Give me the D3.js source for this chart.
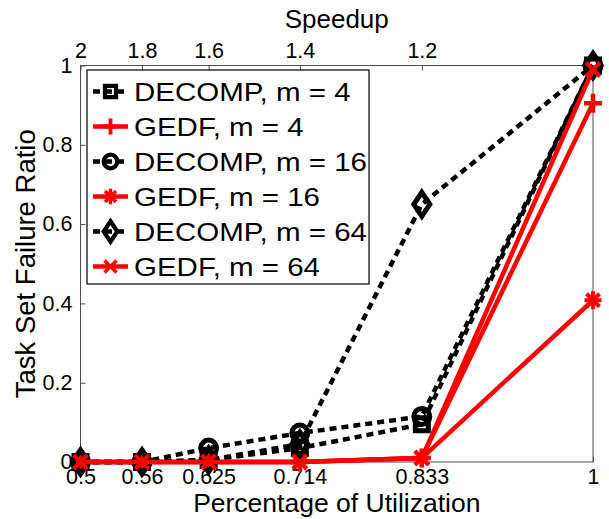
<!DOCTYPE html>
<html>
<head>
<meta charset="utf-8">
<script src="https://cdn.jsdelivr.net/npm/d3@7"></script>
<style>
  html, body { margin: 0; padding: 0; background: #fff; }
  svg { display: block; }
  text { font-family: "Liberation Sans", Arial, Helvetica, sans-serif; fill: #000; }
</style>
</head>
<body>
<svg id="chart" width="609" height="519"></svg>
<script>
// Utilization levels (bottom axis) and the matching speedup labels (top axis)
const utilization = [0.5, 0.56, 0.625, 0.714, 0.833, 1];
const utilLabels = ["0.5", "0.56", "0.625", "0.714", "0.833", "1"];
const speedupLabels = ["2", "1.8", "1.6", "1.4", "1.2"];
const yTicks = [0, 0.2, 0.4, 0.6, 0.8, 1];

// Task set failure ratio per utilization level
const decompM4  = [0, 0, 0.005, 0.035, 0.095, 1];
const gedfM4    = [0, 0, 0, 0, 0.01, 0.905];
const decompM16 = [0, 0, 0.035, 0.073, 0.115, 1];
const gedfM16   = [0, 0, 0, 0, 0.01, 0.408];
const decompM64 = [0, 0, 0.005, 0.045, 0.65, 1];
const gedfM64   = [0, 0, 0, 0, 0.01, 0.99];

const seriesNames = ["DECOMP, m = 4", "GEDF, m = 4", "DECOMP, m = 16",
                     "GEDF, m = 16", "DECOMP, m = 64", "GEDF, m = 64"];
const seriesValues = [decompM4, gedfM4, decompM16, gedfM16, decompM64, gedfM64];
const seriesMarkers = ["square", "plus", "circle", "asterisk", "diamond", "cross"];

const svg = d3.select("#chart");
const margin = { left: 80.5, right: 16, top: 65.5, bottom: 57 };
const W = 609, H = 519;
const x = d3.scaleLinear().domain([0.5, 1]).range([margin.left, W - margin.right]);
const y = d3.scaleLinear().domain([0, 1]).range([H - margin.bottom, margin.top]);

const isDecomp = i => i % 2 === 0;
const colorOf = i => isDecomp(i) ? "#000" : "#ff0000";
const dashes = "7,5";

// Marker path generators (stroke-only outlines, like unfilled plot markers)
function markerPath(kind) {
  const p = d3.path();
  if (kind === "square") {
    p.rect(-6.5, -6.5, 13, 13);
  } else if (kind === "circle") {
    p.moveTo(8, 0); p.arc(0, 0, 8, 0, 2 * Math.PI);
  } else if (kind === "diamond") {
    p.moveTo(0, -12); p.lineTo(8, 0); p.lineTo(0, 12); p.lineTo(-8, 0); p.closePath();
  } else if (kind === "plus") {
    p.moveTo(-9, 0); p.lineTo(9, 0); p.moveTo(0, -9.5); p.lineTo(0, 9.5);
  } else if (kind === "asterisk") {
    p.moveTo(-8.5, 0); p.lineTo(8.5, 0); p.moveTo(0, -9); p.lineTo(0, 9);
    p.moveTo(-6.5, -6.5); p.lineTo(6.5, 6.5); p.moveTo(-6.5, 6.5); p.lineTo(6.5, -6.5);
  } else if (kind === "cross") {
    p.moveTo(-7, -7); p.lineTo(7, 7); p.moveTo(-7, 7); p.lineTo(7, -7);
  }
  return p.toString();
}
const markerStroke = k => (k === "asterisk" || k === "cross") ? 4 : (k === "plus" ? 4.5 : 5);

// Axes box
const axisColor = "#4d4d4d";
svg.append("rect")
  .attr("x", x(0.5)).attr("y", y(1))
  .attr("width", x(1) - x(0.5)).attr("height", y(0) - y(1))
  .attr("fill", "none").attr("stroke", axisColor).attr("stroke-width", 1);

// Bottom axis
const bottomAxis = d3.axisBottom(x).tickValues(utilization)
  .tickFormat((d, i) => utilLabels[i]).tickSizeInner(-5).tickSizeOuter(0).tickPadding(7);
const gB = svg.append("g").attr("transform", `translate(0,${y(0)})`).call(bottomAxis);
gB.select(".domain").remove();
gB.selectAll("line").attr("stroke", axisColor);
gB.selectAll("text").attr("font-size", 21.5).attr("dy", "0.71em");

// Top axis (speedup)
const topAxis = d3.axisTop(x).tickValues(utilization.slice(0, speedupLabels.length))
  .tickFormat((d, i) => speedupLabels[i]).tickSizeInner(-5).tickSizeOuter(0).tickPadding(8);
const gT = svg.append("g").attr("transform", `translate(0,${y(1)})`).call(topAxis);
gT.select(".domain").remove();
gT.selectAll("line").attr("stroke", axisColor);
gT.selectAll("text").attr("font-size", 21.5);

// Left axis
const leftAxis = d3.axisLeft(y).tickValues(yTicks).tickFormat(d3.format("~g"))
  .tickSizeInner(-5).tickSizeOuter(0).tickPadding(8);
const gL = svg.append("g").attr("transform", `translate(${x(0.5)},0)`).call(leftAxis);
gL.select(".domain").remove();
gL.selectAll("line").attr("stroke", axisColor);
gL.selectAll("text").attr("font-size", 21.5);

// Axis titles
svg.append("text").attr("x", (x(0.5) + x(1)) / 2).attr("y", 512)
  .attr("text-anchor", "middle").attr("font-size", 26.5).text("Percentage of Utilization");
svg.append("text").attr("x", (x(0.5) + x(1)) / 2).attr("y", 28)
  .attr("text-anchor", "middle").attr("font-size", 26).text("Speedup");
svg.append("text")
  .attr("transform", `translate(35,${(y(0) + y(1)) / 2}) rotate(-90)`)
  .attr("text-anchor", "middle").attr("font-size", 27.5).text("Task Set Failure Ratio");

// Series lines and markers
const line = d3.line().x((d, i) => x(utilization[i])).y(d => y(d));
const series = svg.append("g");
seriesValues.forEach((vals, i) => {
  const g = series.append("g");
  g.append("path").attr("d", line(vals))
    .attr("fill", "none").attr("stroke", colorOf(i))
    .attr("stroke-width", 4.5)
    .attr("stroke-dasharray", isDecomp(i) ? dashes : null);
  g.selectAll("path.marker").data(vals).join("path")
    .attr("class", "marker")
    .attr("transform", (d, j) => `translate(${x(utilization[j])},${y(d)})`)
    .attr("d", markerPath(seriesMarkers[i]))
    .attr("fill", "none").attr("stroke", colorOf(i))
    .attr("stroke-width", markerStroke(seriesMarkers[i]))
    .attr("stroke-linejoin", "miter");
});

// Legend
const lg = svg.append("g").attr("transform", "translate(87,70)");
lg.append("rect").attr("width", 282).attr("height", 214)
  .attr("fill", "#fff").attr("stroke", "#000").attr("stroke-width", 1.2);
seriesNames.forEach((name, i) => {
  const cy = 21.5 + i * 35;
  const row = lg.append("g").attr("transform", `translate(0,${cy})`);
  row.append("line").attr("x1", 6).attr("x2", 41).attr("y1", 0).attr("y2", 0)
    .attr("stroke", colorOf(i)).attr("stroke-width", 4.5)
    .attr("stroke-dasharray", isDecomp(i) ? dashes : null);
  row.append("path").attr("transform", "translate(23.5,0) scale(0.85)")
    .attr("d", markerPath(seriesMarkers[i]))
    .attr("fill", "none").attr("stroke", colorOf(i))
    .attr("stroke-width", markerStroke(seriesMarkers[i]));
  row.append("text").attr("y", 9).attr("font-size", 25)
    .attr("transform", "scale(1.18,1)").attr("x", 47 / 1.18)
    .text(name);
});
</script>
</body>
</html>
